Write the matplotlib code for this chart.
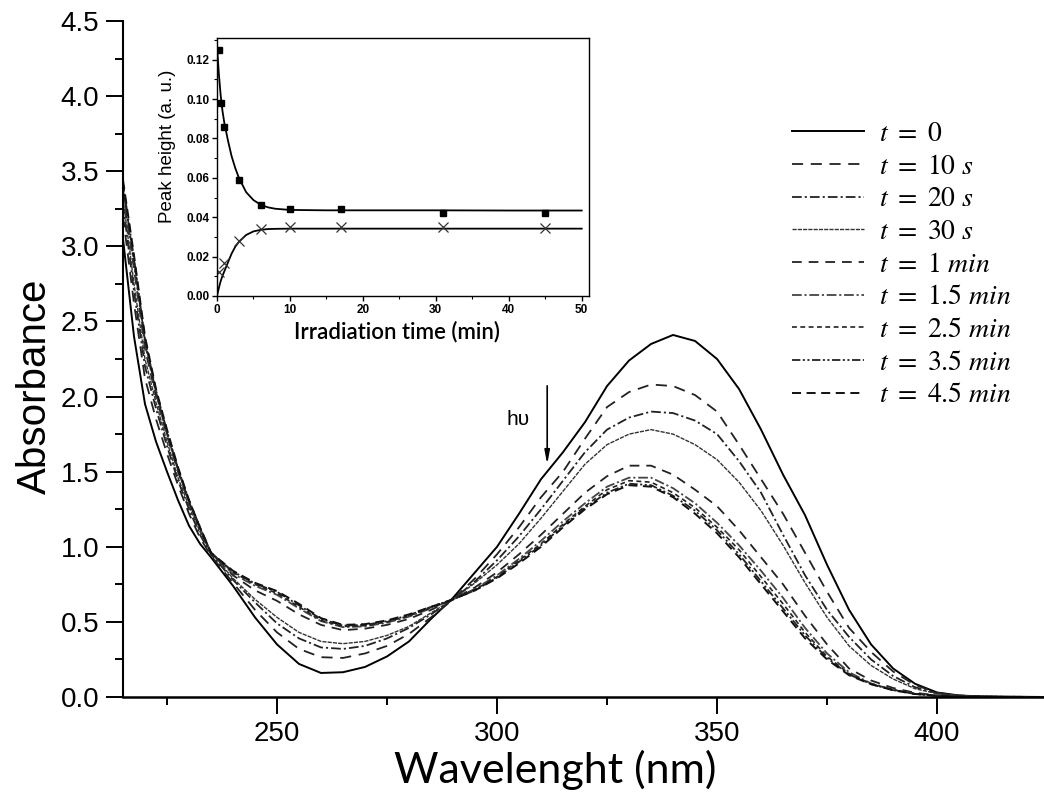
import matplotlib
matplotlib.use("Agg")
from matplotlib import pyplot as plt
from matplotlib.ticker import MultipleLocator

plt.rcParams['font.family'] = ['Liberation Sans', 'DejaVu Sans']
plt.rcParams['mathtext.fontset'] = 'stix'
plt.rcParams['lines.scale_dashes'] = False

# wavelength grid (nm)
wl = [215, 217.5, 220, 222.5, 225, 227.5, 230, 232.5, 235,
      240, 245, 250, 255, 260, 265, 270, 275, 280, 285, 290,
      295, 300, 305, 310, 315, 320, 325, 330, 335, 340,
      345, 350, 355, 360, 365, 370, 375, 380, 385, 390,
      395, 400, 405, 410, 415, 420, 425]

a_0 = [3.05, 2.40, 1.95, 1.70, 1.50, 1.31, 1.14, 1.02, 0.93,
       0.74, 0.53, 0.35, 0.22, 0.16, 0.165, 0.20, 0.27, 0.37, 0.52, 0.66,
       0.83, 1.00, 1.22, 1.45, 1.63, 1.83, 2.07, 2.24, 2.35, 2.41,
       2.37, 2.25, 2.05, 1.78, 1.48, 1.21, 0.88, 0.58, 0.35, 0.19,
       0.088, 0.03, 0.01, 0.004, 0.002, 0.001, 0.0]
a_10s = [3.20, 2.62, 2.12, 1.85, 1.62, 1.41, 1.22, 1.06, 0.94,
         0.76, 0.58, 0.43, 0.32, 0.265, 0.26, 0.29, 0.34, 0.42, 0.53, 0.65,
         0.79, 0.95, 1.13, 1.33, 1.50, 1.72, 1.93, 2.03, 2.08, 2.07,
         2.01, 1.90, 1.68, 1.45, 1.22, 0.96, 0.70, 0.46, 0.30, 0.17,
         0.08, 0.028, 0.01, 0.004, 0.002, 0.001, 0.0]
a_20s = [3.28, 2.70, 2.20, 1.92, 1.67, 1.44, 1.25, 1.08, 0.95,
         0.78, 0.63, 0.49, 0.39, 0.33, 0.32, 0.34, 0.39, 0.46, 0.55, 0.65,
         0.77, 0.91, 1.07, 1.25, 1.44, 1.63, 1.78, 1.86, 1.90, 1.89,
         1.84, 1.75, 1.57, 1.36, 1.08, 0.81, 0.58, 0.40, 0.25, 0.14,
         0.065, 0.025, 0.009, 0.004, 0.002, 0.001, 0.0]
a_30s = [3.32, 2.75, 2.25, 1.96, 1.70, 1.46, 1.27, 1.10, 0.96,
         0.79, 0.65, 0.53, 0.43, 0.37, 0.355, 0.37, 0.41, 0.47, 0.56, 0.65,
         0.76, 0.88, 1.02, 1.19, 1.37, 1.55, 1.68, 1.75, 1.78, 1.75,
         1.68, 1.58, 1.43, 1.24, 1.01, 0.76, 0.53, 0.34, 0.21, 0.12,
         0.055, 0.022, 0.008, 0.003, 0.001, 0.0, 0.0]
a_1m = [3.36, 2.85, 2.32, 2.00, 1.74, 1.50, 1.29, 1.12, 0.96,
        0.81, 0.71, 0.64, 0.55, 0.48, 0.445, 0.455, 0.48, 0.52, 0.58, 0.65,
        0.73, 0.83, 0.95, 1.08, 1.22, 1.36, 1.47, 1.54, 1.54, 1.48,
        1.38, 1.27, 1.11, 0.93, 0.75, 0.54, 0.35, 0.19, 0.11, 0.06,
        0.028, 0.011, 0.004, 0.002, 0.001, 0.0, 0.0]
a_1_5m = [3.38, 2.88, 2.35, 2.02, 1.75, 1.51, 1.30, 1.12, 0.96,
          0.82, 0.74, 0.68, 0.59, 0.505, 0.465, 0.47, 0.495, 0.535, 0.59, 0.65,
          0.72, 0.81, 0.92, 1.04, 1.17, 1.29, 1.40, 1.46, 1.46, 1.39,
          1.29, 1.16, 1.01, 0.84, 0.66, 0.46, 0.29, 0.165, 0.09, 0.05,
          0.022, 0.009, 0.003, 0.001, 0.0, 0.0, 0.0]
a_2_5m = [3.40, 2.90, 2.37, 2.03, 1.76, 1.52, 1.30, 1.12, 0.96,
          0.83, 0.75, 0.69, 0.60, 0.51, 0.47, 0.475, 0.50, 0.54, 0.595, 0.65,
          0.715, 0.80, 0.91, 1.02, 1.15, 1.27, 1.38, 1.44, 1.43, 1.36,
          1.26, 1.13, 0.98, 0.80, 0.62, 0.43, 0.27, 0.155, 0.088, 0.048,
          0.021, 0.008, 0.003, 0.001, 0.0, 0.0, 0.0]
a_3_5m = [3.42, 2.92, 2.38, 2.04, 1.77, 1.52, 1.31, 1.13, 0.96,
          0.835, 0.755, 0.70, 0.61, 0.52, 0.475, 0.48, 0.505, 0.545, 0.60, 0.65,
          0.71, 0.795, 0.90, 1.01, 1.14, 1.26, 1.36, 1.42, 1.41, 1.34,
          1.24, 1.11, 0.95, 0.77, 0.59, 0.41, 0.26, 0.15, 0.086, 0.046,
          0.02, 0.008, 0.003, 0.001, 0.0, 0.0, 0.0]
a_4_5m = [3.44, 2.94, 2.40, 2.05, 1.78, 1.53, 1.31, 1.13, 0.96,
          0.84, 0.76, 0.705, 0.62, 0.525, 0.48, 0.485, 0.51, 0.55, 0.60, 0.65,
          0.71, 0.79, 0.89, 1.00, 1.13, 1.25, 1.35, 1.41, 1.40, 1.33,
          1.22, 1.09, 0.93, 0.75, 0.57, 0.39, 0.25, 0.145, 0.085, 0.045,
          0.02, 0.008, 0.003, 0.001, 0.0, 0.0, 0.0]

labels = [r'$t\ =\ 0$', r'$t\ =\ 10\ s$', r'$t\ =\ 20\ s$', r'$t\ =\ 30\ s$',
          r'$t\ =\ 1\ min$', r'$t\ =\ 1.5\ min$', r'$t\ =\ 2.5\ min$',
          r'$t\ =\ 3.5\ min$', r'$t\ =\ 4.5\ min$']

# inset: peak height vs irradiation time
t_sq = [0.3, 0.6, 1.0, 3.0, 6.0, 10, 17, 31, 45]
h_sq = [0.125, 0.098, 0.086, 0.059, 0.046, 0.044, 0.044, 0.042, 0.042]
t_x = [0.3, 1.0, 3.0, 6.0, 10, 17, 31, 45]
h_x = [0.012, 0.017, 0.028, 0.034, 0.035, 0.035, 0.035, 0.0345]
t_fit = [0, 0.25, 0.5, 0.75, 1, 1.5, 2, 2.5, 3, 4, 5, 6, 7, 8, 10, 15, 20, 30, 40, 50]
h_fit_down = [0.127, 0.113, 0.102, 0.094, 0.088, 0.079, 0.071, 0.065, 0.060, 0.0527,
              0.0487, 0.0463, 0.0450, 0.0443, 0.0437, 0.0435, 0.0435, 0.0435, 0.0434, 0.0434]
h_fit_up = [0.0, 0.004, 0.0075, 0.0102, 0.0125, 0.017, 0.0215, 0.025, 0.0275, 0.031,
            0.0328, 0.0336, 0.034, 0.0341, 0.0342, 0.0342, 0.0342, 0.0342, 0.0342, 0.0342]

series = [a_0, a_10s, a_20s, a_30s, a_1m, a_1_5m, a_2_5m, a_3_5m, a_4_5m]
styles = [
    dict(ls='-', lw=1.4, color='black'),
    dict(ls=(0, (8, 5.5)), lw=1.3, color='#222222'),
    dict(ls=(0, (7, 2.2, 1.5, 2.2)), lw=1.3, color='#222222'),
    dict(ls=(0, (3, 0.8)), lw=1.0, color='#333333'),
    dict(ls=(0, (7, 5)), lw=1.3, color='#222222'),
    dict(ls=(0, (7, 2, 1.5, 2)), lw=1.3, color='#444444'),
    dict(ls=(0, (3.5, 2.5)), lw=1.2, color='#222222'),
    dict(ls=(0, (6, 1.8, 1.5, 1.8, 1.5, 1.8)), lw=1.3, color='#222222'),
    dict(ls=(0, (6.5, 4)), lw=1.4, color='#111111'),
]

fig = plt.figure(figsize=(10.44, 7.94), dpi=100)
ax = fig.add_axes([123/1044, 97/794, 921/1044, 676/794])

for vals, st, lab in zip(series, styles, labels):
    ax.plot(wl, vals, label=lab, **st)

ax.set_xlim(215, 424.3)
ax.set_ylim(0, 4.5)
ax.xaxis.set_major_locator(MultipleLocator(50))
ax.xaxis.set_minor_locator(MultipleLocator(25))
ax.yaxis.set_major_locator(MultipleLocator(0.5))
ax.yaxis.set_minor_locator(MultipleLocator(0.25))
ax.yaxis.set_major_formatter('{x:.1f}')
ax.spines['top'].set_visible(False)
ax.spines['right'].set_visible(False)
ax.spines['left'].set_linewidth(1.5)
ax.spines['bottom'].set_linewidth(1.8)
ax.tick_params(which='major', length=12, width=1.4, labelsize=20, pad=5)
ax.tick_params(which='minor', length=6, width=1.4)

ax.set_ylabel('Absorbance', fontsize=29)
ax.yaxis.set_label_coords(-0.075, 0.46)
ax.set_xlabel('Wavelenght (nm)', fontsize=31, family=['Lato', 'DejaVu Sans'])
ax.xaxis.set_label_coords(0.469, -0.078)

ax.annotate('', xy=(311.4, 1.53), xytext=(311.4, 2.09),
            arrowprops=dict(arrowstyle='-|>,head_length=0.8,head_width=0.15',
                            lw=1.2, color='black'))
ax.text(304.8, 1.85, 'h\u03c5', fontsize=15, ha='center', va='center')

leg = ax.legend(loc='upper left', bbox_to_anchor=(792/1044, (794-121)/794),
                bbox_transform=fig.transFigure, frameon=False, fontsize=20,
                handlelength=2.6, handletextpad=0.52, labelspacing=0.24,
                borderpad=0, borderaxespad=0)

# inset
ins = fig.add_axes([217/1044, (794-296)/794, 372/1044, 258/794])
ins.plot(t_fit, h_fit_down, color='black', lw=1.3)
ins.plot(t_fit, h_fit_up, color='black', lw=1.3)
ins.plot(t_sq, h_sq, 's', color='black', ms=5)
ins.plot(t_x, h_x, 'x', color='#333333', ms=6.5, mew=0.9)
ins.set_xlim(0, 51)
ins.set_ylim(0, 0.131)
ins.xaxis.set_major_locator(MultipleLocator(10))
ins.xaxis.set_minor_locator(MultipleLocator(5))
ins.yaxis.set_major_locator(MultipleLocator(0.02))
ins.yaxis.set_minor_locator(MultipleLocator(0.01))
ins.yaxis.set_major_formatter('{x:.2f}')
for s in ins.spines.values():
    s.set_linewidth(1.0)
ins.tick_params(which='major', length=3.5, width=1.0, pad=2)
ins.tick_params(which='minor', length=2, width=0.8)
for lab in ins.get_xticklabels() + ins.get_yticklabels():
    lab.set_fontsize(8.5)
    lab.set_fontweight('bold')
ins.set_ylabel('Peak height (a. u.)', fontsize=13.5)
ins.yaxis.set_label_coords(-0.11, 0.58)
ins.set_xlabel('Irradiation time (min)', fontsize=16, fontweight='semibold',
               family=['Lato', 'DejaVu Sans'])
ins.xaxis.set_label_coords(0.484, -0.095)

fig.savefig('out.png', dpi=100)
